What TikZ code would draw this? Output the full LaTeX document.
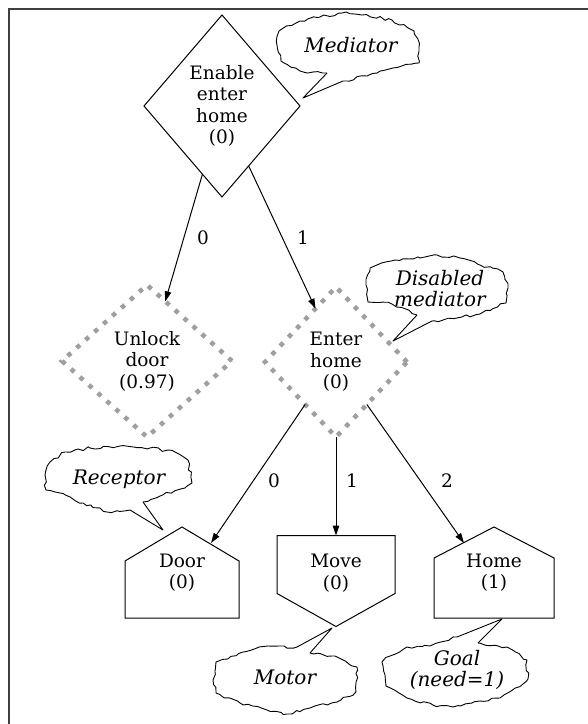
\documentclass[tikz,border=0pt]{standalone}
\usepackage{fontspec}
\setmainfont{DejaVu Serif}
\usetikzlibrary{shapes.geometric,arrows.meta,calc,decorations.pathmorphing}

\begin{document}
\begin{tikzpicture}[x=1pt,y=-1pt,
  every node/.style={font=\fontsize{18.5}{21.5}\selectfont, align=center,
    inner sep=0pt, outer sep=0pt},
  choice/.style={diamond, draw, line width=1pt, aspect=1},
  offchoice/.style={diamond, draw=gray!75, line width=4.5pt,
    dash pattern=on 4.5pt off 7.5pt, aspect=1},
  leaf/.style={minimum height=91pt},
  pen/.style={line width=1pt},
  arr/.style={line width=1pt, -{Triangle[length=10pt,width=6.5pt]}},
  tag/.style={font=\fontsize{18.5}{21.5}\selectfont},
  note/.style={font=\fontsize{20}{21}\selectfont\itshape},
  jag/.style={line width=0.9pt, line join=round,
    decoration={random steps, segment length=4.5pt, amplitude=1.5pt}},
]
\pgfmathsetseed{7}
\useasboundingbox (0,0) rectangle (588,724);

% window frame (top and left edges)
\draw[line width=1.8pt, black!75] (9,724) -- (9,9) -- (588,9);

% decision nodes
\node[choice, minimum width=156pt, minimum height=182pt] (enable) at (222,106)
  {Enable\\enter\\home\\(0)};
\node[offchoice, minimum width=170pt, minimum height=152pt] (unlock) at (147,361)
  {Unlock\\door\\(0.97)};
\node[offchoice, minimum width=142pt, minimum height=150pt] (enter) at (336,362)
  {Enter\\home\\(0)};

% leaf nodes: texts, then their outlines
\node[leaf, minimum width=114pt] (door) at (182,572.5) {Door\\(0)};
\node[leaf, minimum width=118pt] (move) at (336,573) {Move\\(0)};
\node[leaf, minimum width=120pt] (home) at (494,572.5) {Home\\(1)};

\draw[pen] (door.south west) -- ($(door.north west)+(0,34)$) -- (door.north)
  -- ($(door.north east)+(0,34)$) -- (door.south east) -- cycle;
\draw[pen] ($(move.north west)+(0,8)$) -- ($(move.north east)+(0,8)$)
  -- ($(move.south east)+(0,-25)$) -- ($(move.south)+(0,8)$)
  -- ($(move.south west)+(0,-25)$) -- cycle;
\draw[pen] (home.south west) -- ($(home.north west)+(0,31)$) -- (home.north)
  -- ($(home.north east)+(0,31)$) -- (home.south east) -- cycle;

% connectors
\draw[arr] (enable.-106) -- (unlock.73);
\draw[arr] (enable.-66) -- (enter.111);
\draw[arr] (enter.-126) -- ($(door.north)+(29,16)$);
\draw[arr] (enter.south) -- ($(move.north)+(0,8)$);
\draw[arr] (enter.-54) -- ($(home.north)+(-30,16)$);

% connector labels
\node[tag] (t0) at (203,238) {0};
\node[tag] (t1) at (303,238) {1};
\node[tag] (t2) at (274,481) {0};
\node[tag] (t3) at (352,481) {1};
\node[tag] (t4) at (447,481) {2};

% callout texts
\node[note] (cmed) at (351,45) {Mediator};
\node[note] (cdis) at (440,289) {Disabled\\mediator};
\node[note] (crec) at (119,479) {Receptor};
\node[note] (cmot) at (285,677) {Motor};
\node[note] (cgoal) at (457,670) {Goal\\(need=1)};

% callout outlines with their pointers
\draw[jag] (343,81) -- (303,98) -- (327,73);
\draw[jag, decorate] (327,73) -- (300,71) -- (281,61) -- (277,45) -- (279,31)
  -- (300,21) -- (320,17) -- (342,13) -- (362,15) -- (392,20) -- (414,31)
  -- (419,47) -- (419,63) -- (393,68) -- (367,76) -- (343,81);

\draw[jag] (432,321) -- (393,341) -- (417,315);
\draw[jag, decorate] (417,315) -- (392,304) -- (368,302) -- (366,285) -- (370,268)
  -- (395,260) -- (420,258) -- (437,255) -- (460,258) -- (480,265) -- (503,272)
  -- (508,288) -- (506,303) -- (480,314) -- (457,318) -- (432,321);

\draw[jag] (143,502) -- (163,530) -- (130,510);
\draw[jag, decorate] (130,510) -- (107,512) -- (83,503) -- (60,493) -- (46,490)
  -- (45,475) -- (50,462) -- (65,452) -- (90,448) -- (120,446) -- (150,448)
  -- (175,452) -- (188,460) -- (192,483) -- (185,488) -- (160,496) -- (143,502);

\draw[jag] (310,653) -- (332,628) -- (297,647);
\draw[jag, decorate] (297,647) -- (268,646) -- (243,652) -- (216,662) -- (213,680)
  -- (216,693) -- (240,703) -- (267,710) -- (287,714) -- (310,708) -- (337,702)
  -- (356,692) -- (357,667) -- (335,656) -- (310,653);

\draw[jag] (478,643) -- (502,619) -- (457,637);
\draw[jag, decorate] (457,637) -- (430,646) -- (407,647) -- (390,656) -- (382,662)
  -- (386,686) -- (407,698) -- (433,705) -- (453,707) -- (480,701) -- (500,698)
  -- (523,684) -- (528,679) -- (527,660) -- (507,647) -- (478,643);
\end{tikzpicture}
\end{document}
